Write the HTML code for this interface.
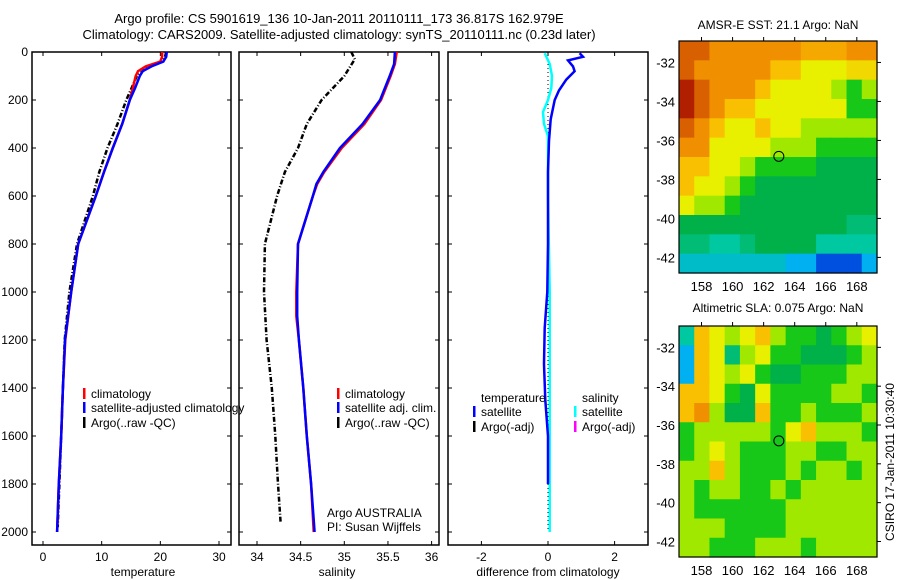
<!DOCTYPE html>
<html><head><meta charset="utf-8"><style>
html,body{margin:0;padding:0;background:#fff;}
svg{display:block;font-family:"Liberation Sans",sans-serif;}
text{fill:#000;font-size:12px;}
</style></head><body>
<svg id="fig" width="900" height="580" viewBox="0 0 900 580">
<text x="339" y="23" text-anchor="middle" style="font-size:13px">Argo profile: CS 5901619_136 10-Jan-2011 20110111_173 36.817S 162.979E</text>
<text x="339" y="39" text-anchor="middle" style="font-size:13px">Climatology: CARS2009. Satellite-adjusted climatology: synTS_20110111.nc (0.23d later)</text>
<text x="778" y="29" text-anchor="middle">AMSR-E SST: 21.1 Argo: NaN</text>
<text x="778" y="312" text-anchor="middle">Altimetric SLA: 0.075 Argo: NaN</text>
<text transform="translate(894,462) rotate(-90)" text-anchor="middle">CSIRO 17-Jan-2011 10:30:40</text>
<g id="g"></g>
</svg>
<script>
// ---------- data ----------
const tempClimDepth = [0,20,40,60,80,100,150,200,300,400,500,600,800,1000,1200,1400,1600,1800,2000];
const tempClim      = [20.3,20.3,20.0,17.5,16.2,15.8,15.3,14.8,13.5,11.9,10.4,9.0,6.0,4.8,3.8,3.4,3.1,2.7,2.4];
const tempSatDepth  = [0,20,40,60,80,100,150,200,300,400,500,600,800,1000,1200,1400,1600,1800,2000];
const tempSat       = [21.1,21.0,20.5,18.5,17.0,16.5,15.7,14.8,13.5,11.9,10.4,9.0,6.0,4.8,3.75,3.4,3.1,2.7,2.4];
const tempArgoDepth = [0,20,40,60,100,200,300,400,500,600,800,1000,1200,1400,1600,1800,1980];
const tempArgo      = [21.0,20.8,20.3,18.0,16.0,14.2,12.7,11.0,9.6,8.5,5.8,4.5,3.7,3.4,3.1,2.8,2.5];

const salClimDepth = [0,50,100,200,300,400,500,550,600,800,1000,1100,1200,1400,1600,1800,2000];
const salClim      = [35.6,35.58,35.53,35.42,35.23,34.97,34.77,34.69,34.64,34.47,34.45,34.45,34.48,34.53,34.57,34.62,34.65];
const salSatDepth  = [0,50,100,200,300,400,500,550,600,800,1000,1100,1200,1400,1600,1800,2000];
const salSat       = [35.58,35.57,35.52,35.41,35.21,34.95,34.76,34.68,34.64,34.47,34.46,34.46,34.48,34.53,34.57,34.62,34.66];
const salArgoDepth = [0,30,100,200,300,400,500,533,600,800,1000,1200,1400,1600,1800,1960];
const salArgo      = [35.08,35.12,35.0,34.74,34.57,34.47,34.32,34.29,34.23,34.09,34.08,34.11,34.17,34.21,34.24,34.27];

const diffTDepth = [5,20,35,60,80,115,160,200,280,370,500,800,1000,1150,1300,1450,1600,1800];
const diffT      = [0.95,1.05,0.6,0.75,0.8,0.55,0.33,0.2,0.08,0.03,0.0,0.0,-0.02,-0.1,-0.12,-0.08,0.0,0.0];
const diffSDepth = [5,50,100,150,200,250,300,350,400,600,1000,1400,2000];
const diffS      = [-0.1,0.05,0.12,0.1,0.0,-0.15,-0.12,0.0,0.0,0.0,0.05,0.05,0.05];

const depthTicks = [0,200,400,600,800,1000,1200,1400,1600,1800,2000];
const tempTicks = [0,10,20,30];
const salTicks = [34,34.5,35,35.5,36];
const diffTicks = [-2,0,2];
const lonTicks = [158,160,162,164,166,168];
const latTicks = [-32,-34,-36,-38,-40,-42];

const sstGrid = [
[9,9,8,8,8,8,8,8,7.5,7.5,7.5,8,8],
[9,8,8,8,8,8,7,7,6,6,6,6.5,6.5],
[10,9,8,8,8,7,6,6,6,6,5,4,5],
[10,9,8,7,7,6,6,6,6,6,6,4,4],
[9,8,7,6,6,7,6,6,5,5,5,5,5],
[8,8,6,6,6,6,5,5,5,4,4,4,4],
[7,7,6,6,5,4,4,4,4,3,3,3,3],
[7,6,6,5,4,3,3,3,3,3,3,3,3],
[6,5,5,4,3,3,3,3,3,3,3,3,3],
[3,3,3,3,3,3,3,3,3,3,3,2.5,2.5],
[2.5,2.5,2,2,2.5,3,3,3,3,2,2,2,2],
[1.5,1.5,1.5,1.5,1.5,1.5,1.5,1,1,0,0,0,1]];
const slaGrid = [
[2,7,6,5,6,7,5,4,4,3,4,5,6],
[1,7,6,2.5,5,6,4,4,3,3,3,4,5],
[1,7,6,5,6,4,3,3,4,4,4,5,5],
[7,7,6,4,3,6,4,4,4,4,5,5,4],
[7,8,5,3,3,7,4,4,5,4,4,4,5],
[4,5,5,5,5,5,4,6,7,5,5,5,4],
[4,5,6,5,4,4,4,5,5,4,4,5,5],
[5,5,7,5,4,4,4,5,4,5,5,4,5],
[5,4,5,5,4,4,5,4,5,5,5,5,5],
[5,4,4,4,4,4,4,5,5,5,5,5,5],
[5,5,5,4,4,4,4,5,5,5,5,5,5],
[5,5,4,4,4,5,5,5,4,5,5,5,5]];
const argoLon = 162.979, argoLat = -36.817;

// ---------- helpers ----------
const NS="http://www.w3.org/2000/svg";
const G=document.getElementById('g');
function mk(tag,attrs,parent){const e=document.createElementNS(NS,tag);for(const k in attrs)e.setAttribute(k,attrs[k]);(parent||G).appendChild(e);return e;}
const yD = d => 52 + d*48/200;
const xT = t => 43 + t*5.867;
const xS = s => 257 + (s-34)*87.3;
const xDf = v => 548 + v*33.3;

function frame(x0,x1,name){
  const r=mk('rect',{x:x0,y:52,width:x1-x0,height:493,fill:'none',stroke:'#000','stroke-width':1.5});
  
  
}
function depthAxis(x0,x1,labels){
  depthTicks.forEach(d=>{
    const y=yD(d);
    mk('line',{x1:x0,y1:y,x2:x0+4,y2:y,stroke:'#000'});
    mk('line',{x1:x1-4,y1:y,x2:x1,y2:y,stroke:'#000'});
    if(labels){const t=mk('text',{x:x0-4,y:y+4,'text-anchor':'end'});t.textContent=d;
      
      }
  });
}
function xAxis(ticks,fx,fmt,title,tx,name){
  ticks.forEach(v=>{const x=fx(v);
    mk('line',{x1:x,y1:545,x2:x,y2:541,stroke:'#000'});
    mk('line',{x1:x,y1:52,x2:x,y2:56,stroke:'#000'});
    const t=mk('text',{x:x,y:561,'text-anchor':'middle'});t.textContent=fmt(v);
    
    
  });
  const t=mk('text',{x:tx,y:576,'text-anchor':'middle'});t.textContent=title;
  
  
}
function line(depths,vals,fx,color,w,dash,name){
  const pts=depths.map((d,i)=>fx(vals[i]).toFixed(1)+','+yD(d).toFixed(1)).join(' ');
  const a={points:pts,fill:'none',stroke:color,'stroke-width':w};
  if(dash)a['stroke-dasharray']=dash;
  const p=mk('polyline',a);
  
  
}
function legend(x,y,color,label,name){
  if(color){const r=mk('rect',{x:x,y:y-10,width:2.5,height:11,fill:color});
    
    }
  const t=mk('text',{x:x+8,y:y});t.textContent=label;
  
  
}

// ---------- temperature panel ----------
frame(32,231,'temperature-panel');
depthAxis(32,231,true);
xAxis(tempTicks,xT,v=>v,'temperature',143,'temperature');
line(tempArgoDepth,tempArgo,xT,'#000',2.5,'5,2,1,2','temperature-argo-line');
line(tempClimDepth,tempClim,xT,'#f00',2.5,null,'temperature-climatology-line');
line(tempSatDepth,tempSat,xT,'#00f',2.5,null,'temperature-satellite-line');
legend(83,398,'#f00','climatology','legend-climatology');
legend(83,412,'#00f','satellite-adjusted climatology','legend-satellite-adjusted');
legend(83,427,'#000','Argo(..raw -QC)','legend-argo');

// ---------- salinity panel ----------
frame(239,439,'salinity-panel');
depthAxis(239,439,false);
xAxis(salTicks,xS,v=>v,'salinity',337,'salinity');
line(salArgoDepth,salArgo,xS,'#000',2.5,'5,2,1,2','salinity-argo-line');
line(salClimDepth,salClim,xS,'#f00',2.5,null,'salinity-climatology-line');
line(salSatDepth,salSat,xS,'#00f',2.5,null,'salinity-satellite-line');
legend(337,398,'#f00','climatology','legend-sal-climatology');
legend(337,412,'#00f','satellite adj. clim.','legend-sal-satellite');
legend(337,427,'#000','Argo(..raw -QC)','legend-sal-argo');
legend(319,517,null,'Argo AUSTRALIA','argo-australia-label');
legend(319,531,null,'PI: Susan Wijffels','pi-label');

// ---------- difference panel ----------
frame(448,648,'difference-panel');
depthAxis(448,648,false);
xAxis(diffTicks,xDf,v=>v===0?'0':(v<0?'-'+(-v):v),'difference from climatology',548,'difference');
mk('line',{x1:548,y1:60,x2:548,y2:532,stroke:'#000','stroke-width':1,'stroke-dasharray':'1,3'});
line(diffSDepth,diffS,xDf,'#0ff',2.5,null,'salinity-difference-line');
line(diffTDepth,diffT,xDf,'#00f',2.5,null,'temperature-difference-line');
legend(473,402,null,'temperature','legend-diff-temperature-header');
legend(473,416,'#00f','satellite','legend-diff-temp-satellite');
legend(473,431,'#000','Argo(-adj)','legend-diff-temp-argo');
legend(574,402,null,'salinity','legend-diff-salinity-header');
legend(574,416,'#0ff','satellite','legend-diff-sal-satellite');
legend(574,431,'#f0f','Argo(-adj)','legend-diff-sal-argo');

// ---------- maps ----------
const stops=[[0,[0,80,224]],[1,[0,176,240]],[2,[0,200,160]],[3,[0,176,72]],[4,[24,200,24]],[5,[160,232,0]],[6,[232,240,0]],[7,[248,192,0]],[8,[240,144,0]],[9,[216,96,0]],[10,[176,32,0]]];
function cmap(v){
  for(let i=0;i<stops.length-1;i++){const a=stops[i],b=stops[i+1];
    if(v<=b[0]){const f=(v-a[0])/(b[0]-a[0]);return 'rgb('+a[1].map((c,k)=>Math.round(c+(b[1][k]-c)*f)).join(',')+')';}}
  return 'rgb(176,32,0)';
}
function map(grid,top,bottom,name){
  const x0=679,x1=877,lonMin=156.55,lonMax=169.3;
  const lat0=-30.9, latPerPx=(-42.8-lat0)/(bottom-top);
  const fx=lon=>x0+(lon-lonMin)*(x1-x0)/(lonMax-lonMin);
  const fy=lat=>top+(lat-lat0)/latPerPx;
  const nr=grid.length,nc=grid[0].length,cw=(x1-x0)/nc,ch=(bottom-top)/nr;
  grid.forEach((row,r)=>row.forEach((v,c)=>{
    const e=mk('rect',{x:(x0+c*cw).toFixed(2),y:(top+r*ch).toFixed(2),width:(cw+0.6).toFixed(2),height:(ch+0.6).toFixed(2),fill:cmap(v)});
    
    
  }));
  const f=mk('rect',{x:x0,y:top,width:x1-x0,height:bottom-top,fill:'none',stroke:'#000','stroke-width':1.2});
  
  
  lonTicks.forEach(l=>{const x=fx(l);
    mk('line',{x1:x,y1:top-4,x2:x,y2:top,stroke:'#000'});
    const t=mk('text',{x:x,y:bottom+18,'text-anchor':'middle',style:'font-size:13px'});t.textContent=l;
    
    });
  latTicks.forEach(l=>{const y=fy(l);
    mk('line',{x1:x1,y1:y,x2:x1+4,y2:y,stroke:'#000'});
    const t=mk('text',{x:x0-4,y:y+5,'text-anchor':'end',style:'font-size:13px'});t.textContent=l;
    
    });
  const c=mk('circle',{cx:fx(argoLon),cy:fy(argoLat),r:5,fill:'none',stroke:'#000','stroke-width':1});
  
  
}
map(sstGrid,41,273,'sst-map');
map(slaGrid,326,557,'sla-map');
</script>
</body></html>
